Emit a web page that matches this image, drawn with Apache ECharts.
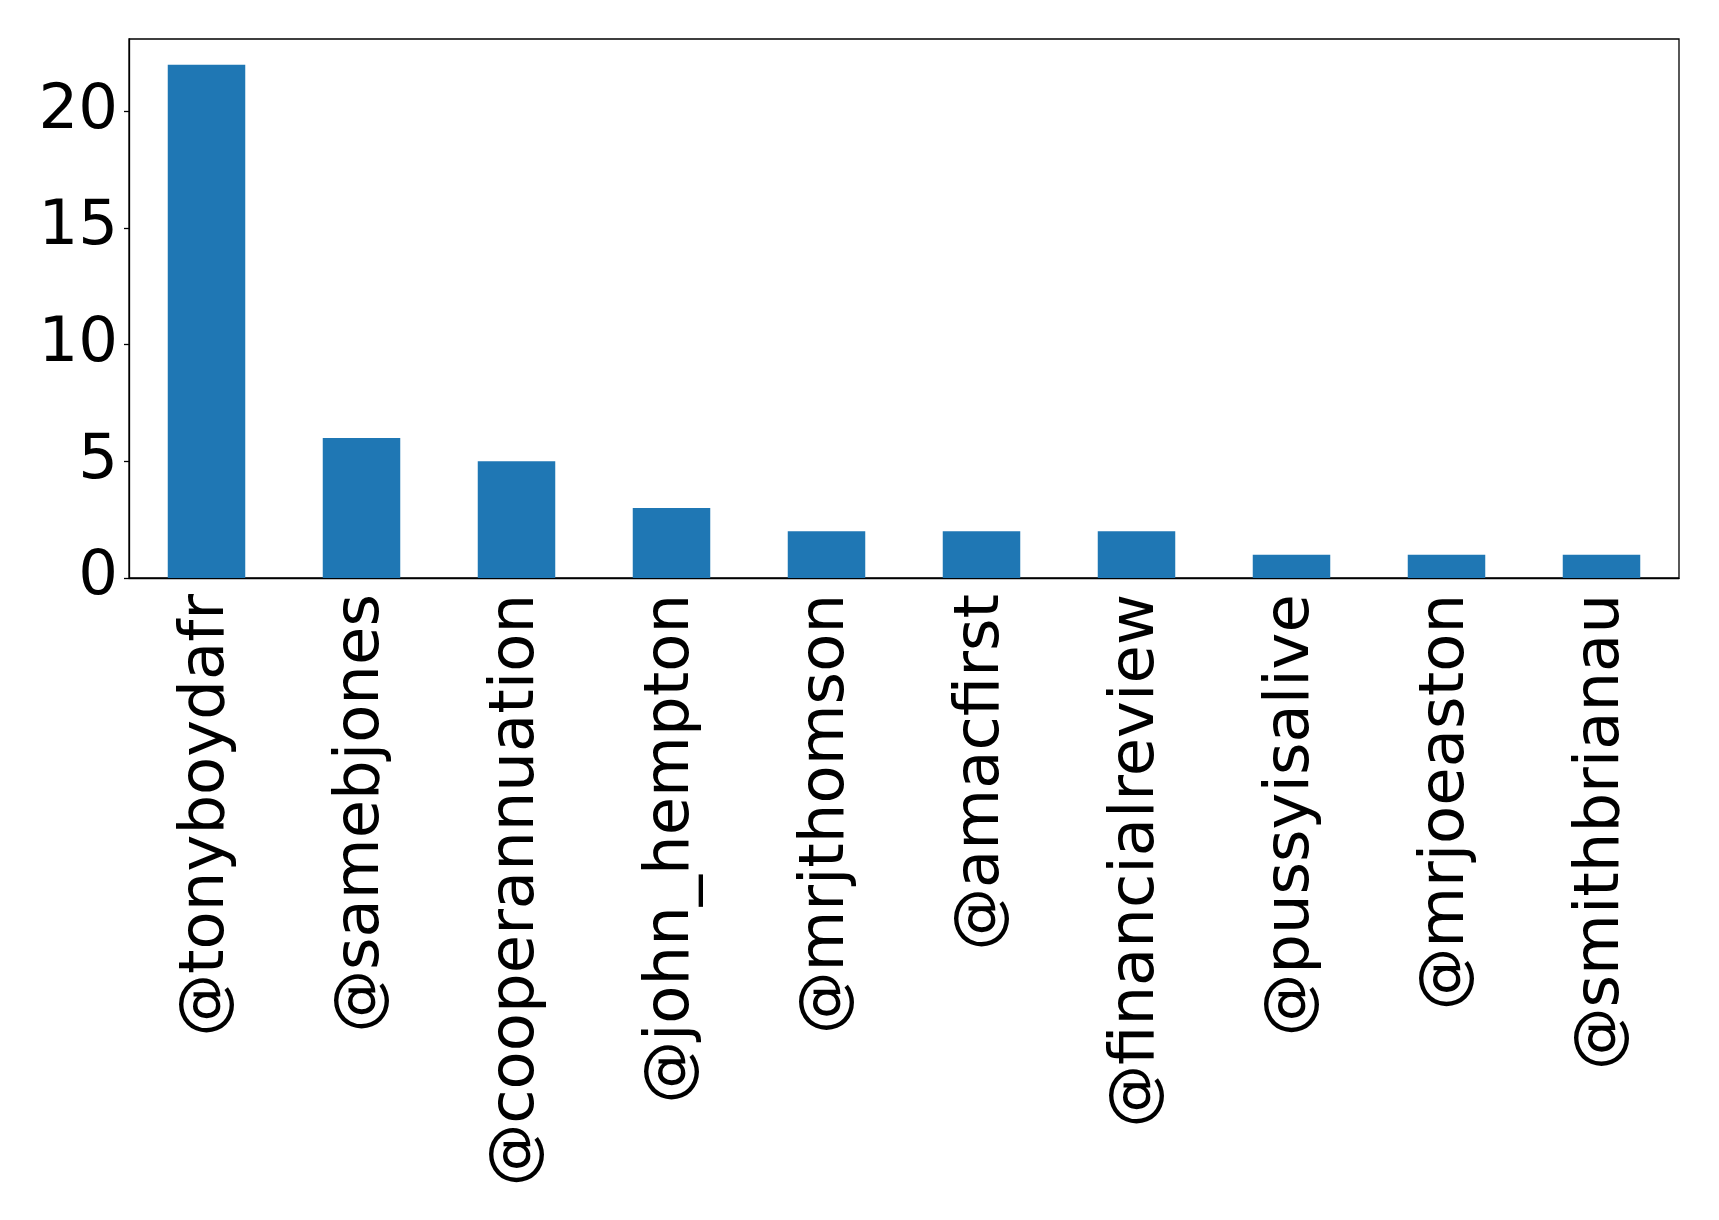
<!DOCTYPE html>
<html><head><meta charset="utf-8">
<script src="https://cdn.jsdelivr.net/npm/echarts@6/dist/echarts.min.js"></script>
<style>html,body{margin:0;padding:0;background:#fff}#c{width:1719px;height:1220px}</style>
</head><body><div id="c"></div>
<script>
const categories = ['@tonyboydafr','@samebjones','@cooperannuation','@john_hempton','@mrjthomson','@amacfirst','@financialreview','@pussyisalive','@mrjoeaston','@smithbrianau'];
const values = [22, 6, 5, 3, 2, 2, 2, 1, 1, 1];
const chart = echarts.init(document.getElementById('c'));
const font = 'DejaVu Sans';
chart.setOption({
  animation: false,
  grid: {left: 129, right: 40, top: 39, bottom: 642, show: true, borderColor: '#000', borderWidth: 1.3, backgroundColor: 'transparent'},
  xAxis: {
    type: 'category', data: categories,
    axisLine: {lineStyle: {color: '#000', width: 1.3}},
    axisTick: {alignWithLabel: true, length: 5, lineStyle: {color: '#000', width: 1.3}},
    axisLabel: {rotate: 90, fontSize: 62.5, fontFamily: font, color: '#000', margin: 16, interval: 0}
  },
  yAxis: {
    type: 'value', min: 0, max: 23.1, interval: 5,
    splitLine: {show: false},
    axisLine: {show: true, lineStyle: {color: '#000', width: 1.3}},
    axisTick: {show: true, length: 5, lineStyle: {color: '#000', width: 1.3}},
    axisLabel: {fontSize: 62.5, fontFamily: font, color: '#000', margin: 11, showMaxLabel: false}
  },
  series: [{type: 'bar', data: values, barWidth: '50%', itemStyle: {color: '#1f77b4'}}]
});
</script></body></html>
